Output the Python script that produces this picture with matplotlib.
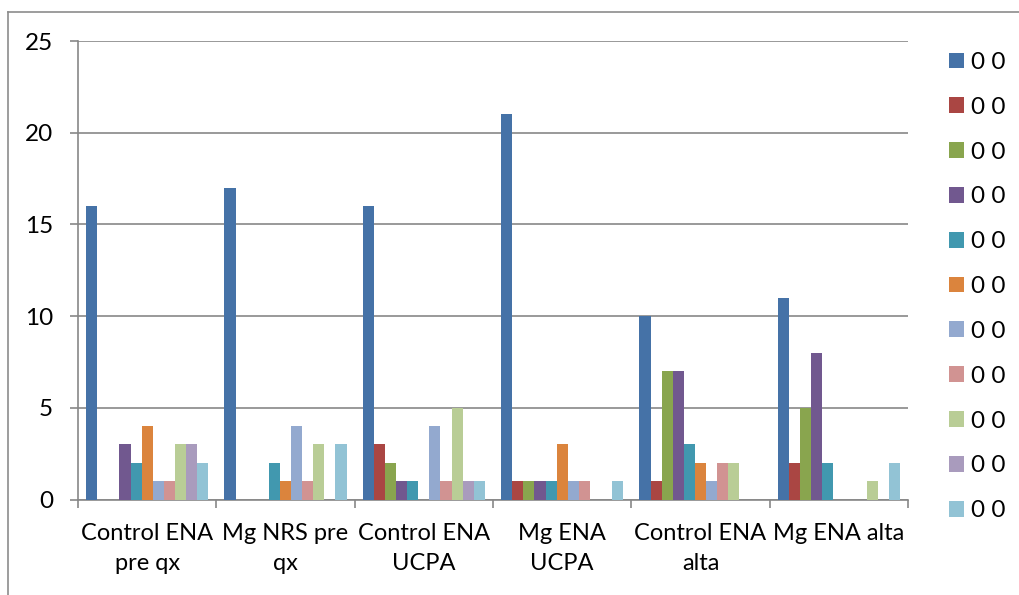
import matplotlib.pyplot as plt
import numpy as np
from matplotlib.lines import Line2D
from matplotlib.patches import Patch

plt.rcParams['font.family'] = ['Lato', 'DejaVu Sans']

groups = ['Control ENA\npre qx', 'Mg NRS pre\nqx', 'Control ENA\nUCPA',
          'Mg ENA\nUCPA', 'Control ENA\nalta', 'Mg ENA alta']
series_names = ['0 0'] * 11

# one list per series, one value per group
s1 = [16, 17, 16, 21, 10, 11]
s2 = [0, 0, 3, 1, 1, 2]
s3 = [0, 0, 2, 1, 7, 5]
s4 = [3, 0, 1, 1, 7, 8]
s5 = [2, 2, 1, 1, 3, 2]
s6 = [4, 1, 0, 3, 2, 0]
s7 = [1, 4, 4, 1, 1, 0]
s8 = [1, 1, 1, 1, 2, 0]
s9 = [3, 3, 5, 0, 2, 1]
s10 = [3, 0, 1, 0, 0, 0]
s11 = [2, 3, 1, 1, 0, 2]
series = [s1, s2, s3, s4, s5, s6, s7, s8, s9, s10, s11]

colors = ['#4572A7', '#AA4643', '#89A54E', '#71588F', '#4198AF', '#DB843D',
          '#93A9CF', '#D19392', '#B9CD96', '#A99BBD', '#92C3D5']

fig = plt.figure(figsize=(10.2, 5.95), dpi=100)
ax = fig.add_axes([78 / 1020, 1 - 499.5 / 595, 830 / 1020, 458.5 / 595])

n = len(series)
bw = 0.0802
centers = np.arange(len(groups)) + 0.5
for i, (vals, c) in enumerate(zip(series, colors)):
    x = centers + (i - (n - 1) / 2) * bw
    ax.bar(x, vals, width=bw, color=c, edgecolor='none', zorder=3)

grid_c = '#878787'
ax.set_xlim(0, 6)
ax.set_ylim(0, 25)
ax.set_yticks([0, 5, 10, 15, 20, 25])
ax.yaxis.grid(True, color=grid_c, linewidth=1.2, zorder=0)
for side in ['top', 'right']:
    ax.spines[side].set_visible(False)
for side in ['left', 'bottom']:
    ax.spines[side].set_color(grid_c)
    ax.spines[side].set_linewidth(1.2)

ax.tick_params(axis='y', length=6, width=1.2, color=grid_c, pad=12, labelsize=17.5)
ax.set_xticks(np.arange(0, 7), minor=True)
ax.set_xticks(centers)
ax.set_xticklabels(groups, fontsize=17, linespacing=1.55)
ax.tick_params(axis='x', which='minor', length=6, width=1.2, color=grid_c)
ax.tick_params(axis='x', which='major', length=0, pad=17)

handles = [Patch(facecolor=c, edgecolor='none') for c in colors]
fig.legend(handles, series_names, loc='upper left',
           bbox_to_anchor=(949 / 1020, 1 - 52 / 595), frameon=False,
           fontsize=17.5, handlelength=0.62, handleheight=0.62,
           handletextpad=0.3, labelspacing=0.98, borderpad=0, borderaxespad=0)

# outer chart frame
fig.add_artist(Line2D([8.5 / 1020, 1.0], [1 - 12 / 595, 1 - 12 / 595],
                      color='#8c8c8c', linewidth=1.2, transform=fig.transFigure))
fig.add_artist(Line2D([8.5 / 1020, 8.5 / 1020], [1 - 12 / 595, 0.0],
                      color='#8c8c8c', linewidth=1.2, transform=fig.transFigure))

fig.savefig('out.png', dpi=100)
